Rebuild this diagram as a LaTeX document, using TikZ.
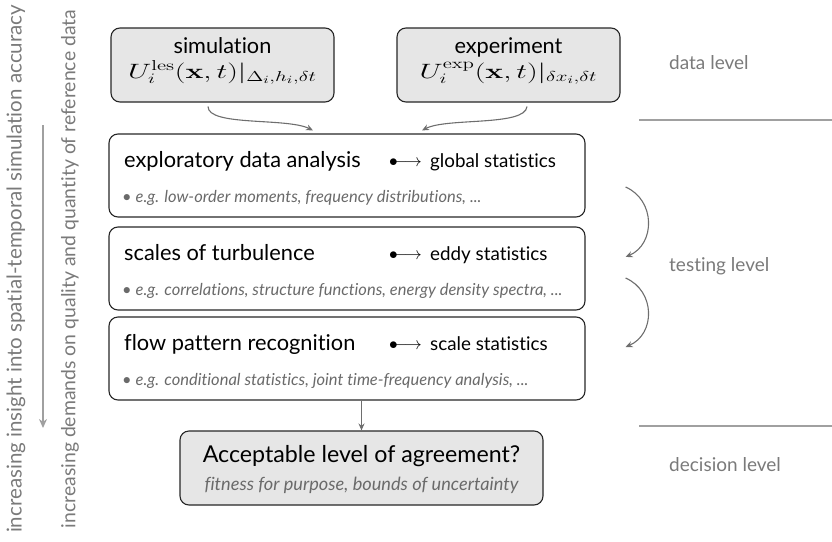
\documentclass[tikz,border=0pt]{standalone}
\usepackage{amsmath}
\usepackage[no-math]{fontspec}
\setmainfont[Ligatures=NoCommon]{Lato}
\usetikzlibrary{arrows.meta,calc}
\definecolor{lblgray}{HTML}{7A7A7A}
\definecolor{subgray}{HTML}{6A6A6A}
\definecolor{argray}{HTML}{6E6E6E}
\definecolor{linegray}{HTML}{A0A0A0}
\definecolor{boxfill}{HTML}{E6E6E6}
\newcommand{\wmath}[1]{\scalebox{1.45}[1]{$#1$}}
\begin{document}
\begin{tikzpicture}[x=1pt,y=-1pt,
  box/.style={draw=black!85, line width=1.1pt, rounded corners=9pt, inner sep=0pt},
  dbox/.style={box, fill=boxfill},
  head/.style={anchor=base west, inner sep=0pt, font=\fontsize{21.8}{26}\selectfont},
  rtext/.style={anchor=base west, inner sep=0pt, font=\fontsize{18.8}{22}\selectfont},
  sub/.style={anchor=base west, inner sep=0pt, text=subgray, font=\fontsize{16.5}{19}\selectfont\itshape},
  dotarr/.style={anchor=base west, inner sep=0pt, font=\fontsize{16}{20}\selectfont},
  lvl/.style={anchor=west, inner sep=0pt, text=lblgray, font=\fontsize{19}{22}\selectfont},
  side/.style={inner sep=0pt, text=lblgray, rotate=90},
  flow/.style={draw=argray, line width=1.1pt, -{Stealth[length=7pt,width=6pt]}},
  sep/.style={draw=linegray, line width=1.2pt}
]
\useasboundingbox (0,0) rectangle (832,541);

% side labels
\node[side, font=\fontsize{20.5}{24}\selectfont] (s1) at (16,269) {increasing insight into spatial-temporal simulation accuracy};
\node[side, font=\fontsize{19.4}{24}\selectfont] (s2) at (70,269) {increasing demands on quality and quantity of reference data};
\coordinate (atop) at (43,125);
\coordinate (abot) at (43,428);
\draw[draw=linegray, line width=1.5pt, -{Stealth[length=9pt,width=8pt]}] (atop) -- (abot);

% data level
\node[dbox, minimum width=223pt, minimum height=74pt] (sim) at (222.5,65) {};
\node[dbox, minimum width=223pt, minimum height=74pt] (exp) at (508.5,65) {};
\node[anchor=base, inner sep=0pt, font=\fontsize{21.7}{26}\selectfont] (simt) at (222.5,53) {simulation};
\node[anchor=base, inner sep=0pt, font=\fontsize{21.5}{26}\selectfont] (simm) at (222.5,78) {\wmath{U_i^{\mathrm{les}}(\mathbf{x},t)|_{\Delta_i,h_i,\delta t}}};
\node[anchor=base, inner sep=0pt, font=\fontsize{21.7}{26}\selectfont] (expt) at (508.5,53) {experiment};
\node[anchor=base, inner sep=0pt, font=\fontsize{21.5}{26}\selectfont] (expm) at (508.5,78) {\wmath{U_i^{\mathrm{exp}}(\mathbf{x},t)|_{\delta x_i,\delta t}}};

% testing level
\node[box, minimum width=476pt, minimum height=83pt] (eda) at (347,175.5) {};
\node[box, minimum width=476pt, minimum height=83pt] (sot) at (347,268.5) {};
\node[box, minimum width=476pt, minimum height=83pt] (fpr) at (347,358.5) {};

\node[head] (edah) at (124,167) {exploratory data analysis};
\node[dotarr] (edaa) at (389,166) {$\bullet\!\!\!\longrightarrow$};
\node[rtext] (edar) at (430,167) {global statistics};
\node[sub] (edas) at (122,202) {\textbullet\ e.g. low-order moments, frequency distributions, ...};

\node[head] (soth) at (124,260) {scales of turbulence};
\node[dotarr] (sota) at (389,259) {$\bullet\!\!\!\longrightarrow$};
\node[rtext] (sotr) at (430,260) {eddy statistics};
\node[sub] (sots) at (122,295) {\textbullet\ e.g. correlations, structure functions, energy density spectra, ...};

\node[head] (fprh) at (124,350) {flow pattern recognition};
\node[dotarr] (fpra) at (389,349) {$\bullet\!\!\!\longrightarrow$};
\node[rtext] (fprr) at (430,350) {scale statistics};
\node[sub] (fprs) at (122,385) {\textbullet\ e.g. conditional statistics, joint time-frequency analysis, ...};

% decision level
\node[dbox, minimum width=363pt, minimum height=74pt] (acc) at (361.5,468) {};
\node[anchor=base, inner sep=0pt, font=\fontsize{23.2}{28}\selectfont] (acct) at (361.5,462) {Acceptable level of agreement?};
\node[anchor=base, inner sep=0pt, text=subgray, font=\fontsize{18.2}{22}\selectfont\itshape] (accs) at (361.5,490) {fitness for purpose, bounds of uncertainty};

% connectors
\draw[flow] ($(sim.south)+(-14.5,4)$) .. controls ($(sim.south)+(-14.5,24)$) and ($(eda.north)+(-60,-16)$) .. ($(eda.north)+(-34,-3)$);
\draw[flow] ($(exp.south)+(18.5,4)$) .. controls ($(exp.south)+(16.5,24)$) and ($(eda.north)+(100,-16)$) .. ($(eda.north)+(75,-3)$);
\draw[flow] ($(eda.east)+(40,11.5)$) .. controls ($(eda.east)+(70,24.5)$) and ($(sot.east)+(70,-24.5)$) .. ($(sot.east)+(40,-11.5)$);
\draw[flow] ($(sot.east)+(40,9.5)$) .. controls ($(sot.east)+(70,22.5)$) and ($(fpr.east)+(70,-24.5)$) .. ($(fpr.east)+(40,-11.5)$);
\draw[flow] ($(fpr.south)+(14.5,0)$) -- (acc.north);

% level separators and labels
\coordinate (l1a) at (639,120); \coordinate (l1b) at (832,120);
\coordinate (l2a) at (639,426); \coordinate (l2b) at (832,426);
\draw[sep] (l1a) -- (l1b);
\draw[sep] (l2a) -- (l2b);
\node[lvl] (dl) at (669,63) {data level};
\node[lvl] (tl) at (669,266) {testing level};
\node[lvl] (dcl) at (669,465) {decision level};
\end{tikzpicture}
\end{document}
